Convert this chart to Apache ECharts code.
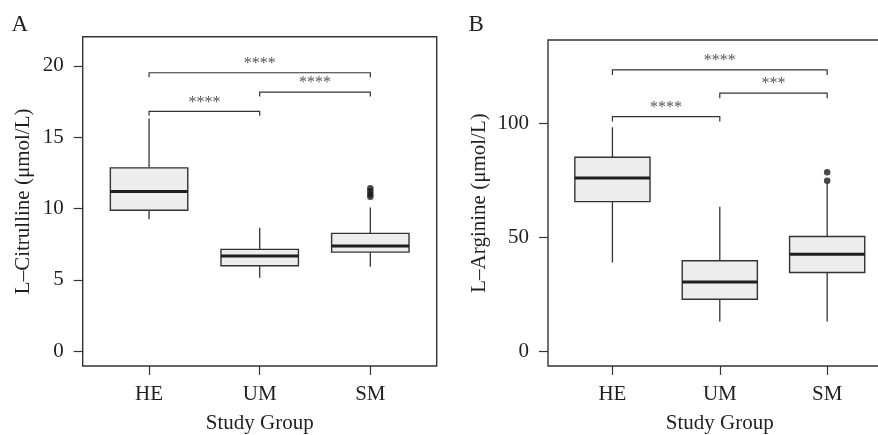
<!DOCTYPE html>
<html>
<head>
<meta charset="utf-8">
<script src="https://cdn.jsdelivr.net/npm/echarts@6/dist/echarts.min.js"></script>
<style>
html,body{margin:0;padding:0;background:#fff;}
#chart{width:878px;height:435px;}
</style>
</head>
<body>
<div id="chart"></div>
<script>
// ---- data ----
const groups = ['HE', 'UM', 'SM'];
// [x, lowerWhisker, Q1, median, Q3, upperWhisker]
const citrullineBoxes = [
  [1, 9.25, 9.88, 11.19, 12.85, 16.31],
  [2, 5.14, 5.98, 6.66, 7.13, 8.64],
  [3, 5.91, 6.94, 7.36, 8.25, 10.07]
];
const citrullineOutliers = [[3, 11.42], [3, 11.2], [3, 11.0], [3, 10.83]];
const citrullineTicks = [0, 5, 10, 15, 20];
// [x1, x2, lineY, tipY]
const citrullineBrackets = [[1, 3, 19.52, 19.21], [2, 3, 18.16, 17.86], [1, 2, 16.81, 16.5]];
const citrullineSig = ['****', '****', '****'];

const arginineBoxes = [
  [1, 38.9, 65.6, 76.0, 85.1, 98.2],
  [2, 13.0, 22.8, 30.3, 39.7, 63.4],
  [3, 13.0, 34.5, 42.5, 50.3, 73.7]
];
const arginineOutliers = [[3, 78.5], [3, 74.8]];
const arginineTicks = [0, 50, 100];
const arginineBrackets = [[1, 3, 123.4, 121.2], [2, 3, 113.2, 111.0], [1, 2, 102.9, 100.7]];
const arginineSig = ['****', '***', '****'];

// ---- styles ----
const FONT = '"Liberation Serif", "Times New Roman", serif';
const INK = '#1f1f1f';
const BOX_W = 0.7;

function boxRenderer(params, api) {
  const x = api.value(0);
  const pLo = api.coord([x, api.value(1)]);
  const pQ1 = api.coord([x, api.value(2)]);
  const pMed = api.coord([x, api.value(3)]);
  const pQ3 = api.coord([x, api.value(4)]);
  const pHi = api.coord([x, api.value(5)]);
  const half = api.size([BOX_W, 0])[0] / 2;
  const lineStyle = { stroke: '#333', lineWidth: 1.3 };
  return {
    type: 'group',
    children: [
      { type: 'line', shape: { x1: pHi[0], y1: pHi[1], x2: pQ3[0], y2: pQ3[1] }, style: lineStyle },
      { type: 'line', shape: { x1: pQ1[0], y1: pQ1[1], x2: pLo[0], y2: pLo[1] }, style: lineStyle },
      { type: 'rect', shape: { x: pQ3[0] - half, y: pQ3[1], width: half * 2, height: pQ1[1] - pQ3[1] },
        style: { fill: '#ededed', stroke: '#333', lineWidth: 1.4 } },
      { type: 'line', shape: { x1: pMed[0] - half, y1: pMed[1], x2: pMed[0] + half, y2: pMed[1] },
        style: { stroke: '#1e1e1e', lineWidth: 3 } }
    ]
  };
}

function bracketRenderer(labels) {
  return function (params, api) {
    const x1 = api.value(0), x2 = api.value(1), y = api.value(2), tip = api.value(3);
    const a = api.coord([x1, tip]);
    const b = api.coord([x1, y]);
    const c = api.coord([x2, y]);
    const d = api.coord([x2, tip]);
    return {
      type: 'group',
      children: [
        { type: 'polyline', shape: { points: [a, b, c, d] }, style: { stroke: '#333', lineWidth: 1.2, fill: null } },
        { type: 'text', x: (b[0] + c[0]) / 2, y: b[1] - 9,
          style: { text: labels[params.dataIndex], fill: '#555', font: '16px ' + FONT, align: 'center', verticalAlign: 'middle' } }
      ]
    };
  };
}

function xAxis(gridIndex) {
  return {
    type: 'value', gridIndex: gridIndex, min: 0.4, max: 3.6, position: 'bottom',
    name: 'Study Group', nameLocation: 'middle', nameGap: 47,
    nameTextStyle: { fontFamily: FONT, fontSize: 21, color: INK },
    axisLine: { show: false, onZero: false },
    axisTick: { show: true, inside: false, length: 9, customValues: [1, 2, 3], lineStyle: { color: '#333', width: 1.2 } },
    axisLabel: { show: true, customValues: [1, 2, 3], margin: 18, fontFamily: FONT, fontSize: 21, color: INK,
      formatter: v => groups[Math.round(v) - 1] },
    splitLine: { show: false }
  };
}

function yAxis(gridIndex, name, min, max, ticks, gap) {
  return {
    type: 'value', gridIndex: gridIndex, min: min, max: max, position: 'left',
    name: name, nameLocation: 'middle', nameGap: gap, nameRotate: 90,
    nameTextStyle: { fontFamily: FONT, fontSize: 21, color: INK },
    axisLine: { show: false, onZero: false },
    axisTick: { show: true, inside: false, length: 9, customValues: ticks, lineStyle: { color: '#333', width: 1.2 } },
    axisLabel: { show: true, customValues: ticks, margin: 19, fontFamily: FONT, fontSize: 21, color: INK },
    splitLine: { show: false }
  };
}

const chart = echarts.init(document.getElementById('chart'), null, { renderer: 'canvas' });
chart.setOption({
  animation: false,
  backgroundColor: '#fff',
  title: [
    { text: 'A', left: 11.5, top: 13, padding: 0, textStyle: { fontFamily: FONT, fontSize: 23, fontWeight: 'normal', color: '#222' } },
    { text: 'B', left: 468.5, top: 13, padding: 0, textStyle: { fontFamily: FONT, fontSize: 23, fontWeight: 'normal', color: '#222' } }
  ],
  grid: [
    { left: 82.7, top: 36.7, width: 354, height: 329.3, show: true, borderColor: '#333', borderWidth: 1.4,
      backgroundColor: 'transparent', containLabel: false, outerBoundsMode: 'none' },
    { left: 548, top: 40, width: 343.6, height: 326, show: true, borderColor: '#333', borderWidth: 1.4,
      backgroundColor: 'transparent', containLabel: false, outerBoundsMode: 'none' }
  ],
  xAxis: [xAxis(0), xAxis(1)],
  yAxis: [
    yAxis(0, 'L–Citrulline (μmol/L)', -1.05, 22.05, citrullineTicks, 49),
    yAxis(1, 'L–Arginine (μmol/L)', -6.5, 136.5, arginineTicks, 58)
  ],
  series: [
    { type: 'custom', xAxisIndex: 0, yAxisIndex: 0, renderItem: boxRenderer, data: citrullineBoxes,
      encode: { x: 0, y: [1, 2, 3, 4, 5] }, silent: true },
    { type: 'scatter', xAxisIndex: 0, yAxisIndex: 0, data: citrullineOutliers, symbol: 'circle', symbolSize: 6.5,
      itemStyle: { color: '#1a1a1a' }, silent: true },
    { type: 'custom', xAxisIndex: 0, yAxisIndex: 0, renderItem: bracketRenderer(citrullineSig), data: citrullineBrackets,
      encode: { x: [0, 1], y: [2, 3] }, silent: true },
    { type: 'custom', xAxisIndex: 1, yAxisIndex: 1, renderItem: boxRenderer, data: arginineBoxes,
      encode: { x: 0, y: [1, 2, 3, 4, 5] }, silent: true },
    { type: 'scatter', xAxisIndex: 1, yAxisIndex: 1, data: arginineOutliers, symbol: 'circle', symbolSize: 6.5,
      itemStyle: { color: '#1a1a1a' }, silent: true },
    { type: 'custom', xAxisIndex: 1, yAxisIndex: 1, renderItem: bracketRenderer(arginineSig), data: arginineBrackets,
      encode: { x: [0, 1], y: [2, 3] }, silent: true }
  ]
});
</script>
</body>
</html>
